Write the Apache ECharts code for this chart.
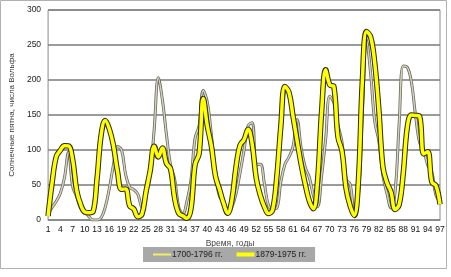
<!DOCTYPE html>
<html>
<head>
<meta charset="utf-8">
<script src="https://cdn.jsdelivr.net/npm/echarts@6/dist/echarts.min.js"></script>
<style>html,body{margin:0;padding:0;background:#fff}#c{width:451px;height:277px}</style>
</head>
<body>
<div id="c"></div>
<script>
// Years index 1..97
const categories = Array.from({length: 97}, (_, i) => String(i + 1));
// Wolf numbers 1700-1796
const series1700 = [8.3,18.3,26.7,38.3,60.0,96.7,48.3,33.3,16.7,13.3,5.0,0,0,3.3,18.3,45.0,78.3,105.0,100.0,65.0,
46.7,43.3,36.7,18.3,35.0,66.7,130.0,203.3,171.7,121.7,78.3,58.3,18.3,8.3,26.7,56.7,116.7,135.0,185.0,168.3,
121.7,66.7,33.3,26.7,8.3,18.3,36.7,66.7,100.0,134.8,139.0,79.5,79.7,51.2,20.3,16.0,17.0,54.0,79.3,90.0,
104.8,143.2,102.0,75.2,60.7,34.8,19.0,63.0,116.3,176.8,168.0,136.0,110.8,58.0,51.0,11.7,33.0,154.2,257.3,209.8,
141.3,113.5,64.2,38.0,17.0,40.2,138.2,220.0,218.2,196.8,149.8,111.0,100.0,78.2,68.3,35.5,26.7];
// Wolf numbers 1879-1975
const series1879 = [5.7,53.8,90.5,99.5,106.1,105.8,87.0,42.3,21.8,11.3,10.4,11.8,59.5,121.7,142.0,130.0,106.6,69.4,43.8,44.4,
20.2,15.7,4.6,8.5,40.8,70.1,105.5,90.1,102.8,80.9,73.2,30.9,9.5,6.0,2.4,16.1,79.0,95.0,173.6,134.6,
105.7,62.7,43.5,23.7,9.7,27.9,74.0,106.5,114.7,129.7,108.2,59.4,35.1,18.6,9.2,14.6,60.2,132.8,190.6,182.6,
148.0,113.0,79.2,50.8,27.1,16.1,55.3,154.3,214.7,193.0,190.7,118.9,98.3,45.0,20.1,6.6,54.2,200.7,269.3,261.7,
225.1,159.0,76.4,53.4,39.9,15.0,22.0,66.8,132.9,150.0,149.4,148.0,94.4,97.6,54.1,49.2,22.5];
const name1 = '1700-1796 гг.';
const name2 = '1879-1975 гг.';
const yTicks = {min: 0, max: 300, interval: 50};

const font = 'Liberation Sans';
const chart = echarts.init(document.getElementById('c'), null, {renderer: 'canvas'});
const sm = 0.4;
chart.setOption({
  animation: false,
  backgroundColor: '#fff',
  grid: {left: 37, right: 11, top: 10, bottom: 57, show: true, borderColor: '#8a8a8a', borderWidth: 1},
  graphic: [{type: 'rect', shape: {x: 0.5, y: 0.5, width: 446, height: 268}, style: {fill: 'none', stroke: '#b0b0b0', lineWidth: 1}, silent: true}],
  legend: {
    data: [
      {name: name1, itemStyle: {opacity: 0}, lineStyle: {color: '#f0f060', width: 2}},
      {name: name2, itemStyle: {opacity: 0}, lineStyle: {color: '#ffff00', width: 4}}
    ],
    left: 143, top: 247, itemWidth: 18, itemHeight: 10, itemGap: 12,
    backgroundColor: '#a8a8a8', padding: [3, 9, 3, 9],
    textStyle: {fontFamily: font, fontSize: 8.5, color: '#222', padding: [0, 0, 0, -4]}
  },
  xAxis: {
    type: 'category', data: categories, boundaryGap: false,
    name: 'Время, годы', nameLocation: 'middle', nameGap: 14,
    nameTextStyle: {fontFamily: font, fontSize: 8.5, color: '#444', padding: [0, 28, 0, 0]},
    axisLine: {lineStyle: {color: '#8a8a8a'}}, axisTick: {show: false},
    axisLabel: {interval: 2, margin: 5, fontFamily: font, fontSize: 8.5, color: '#111'},
    splitLine: {show: false}
  },
  yAxis: {
    type: 'value', min: yTicks.min, max: yTicks.max, interval: yTicks.interval,
    name: 'Солнечные пятна, числа Вольфа', nameLocation: 'middle', nameGap: 27, nameRotate: 90,
    nameTextStyle: {fontFamily: font, fontSize: 8, color: '#333'},
    axisLine: {show: false}, axisTick: {show: false},
    axisLabel: {margin: 7, fontFamily: font, fontSize: 8.5, color: '#222'},
    splitLine: {lineStyle: {color: '#7a7a7a', width: 1.5}}
  },
  series: [
    {name: name1 + ' outline', type: 'line', data: series1700, smooth: sm, symbol: 'none', silent: true,
     lineStyle: {color: '#6a6a60', width: 3}, z: 2},
    {name: name1, type: 'line', data: series1700, smooth: sm, symbol: 'none',
     lineStyle: {color: '#d8d6c0', width: 1.4}, itemStyle: {color: '#f0f060'}, z: 3},
    {name: name2 + ' outline', type: 'line', data: series1879, smooth: sm, symbol: 'none', silent: true,
     lineStyle: {color: '#2a2a10', width: 5.5}, z: 4},
    {name: name2, type: 'line', data: series1879, smooth: sm, symbol: 'none',
     lineStyle: {color: '#ffff00', width: 3.5}, itemStyle: {color: '#ffff00'}, z: 5}
  ]
});
</script>
</body>
</html>
